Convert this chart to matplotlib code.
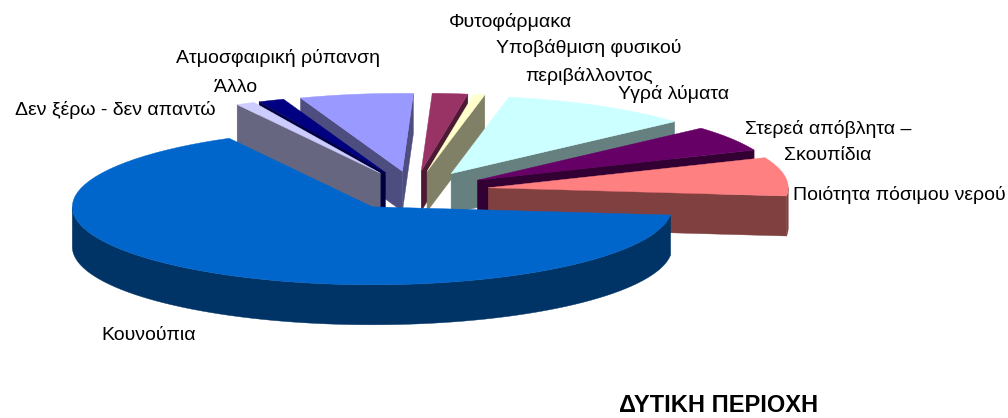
import numpy as np
import matplotlib
matplotlib.use("Agg")
import matplotlib.pyplot as plt
from matplotlib.patches import Polygon

plt.rcParams['font.family'] = ['Liberation Sans', 'DejaVu Sans']

# slices run clockwise from the left edge of the first one
labels = ['Δεν ξέρω - δεν απαντώ', 'Άλλο', 'Ατμοσφαιρική ρύπανση', 'Φυτοφάρμακα',
          'Υποβάθμιση φυσικού\nπεριβάλλοντος', 'Υγρά λύματα',
          'Στερεά απόβλητα –\nΣκουπίδια', 'Ποιότητα πόσιμου νερού', 'Κουνούπια']
shares = [1.0, 1.4, 6.1, 1.9, 0.6, 10.3, 5.3, 8.0, 65.4]
top_colors = ['#CCCCFF', '#000080', '#9999FF', '#993366', '#FFFFCC',
              '#CCFFFF', '#660066', '#FF8080', '#0066CC']
side_colors = ['#666680', '#000040', '#4D4D80', '#4D1A33', '#808066',
               '#668080', '#330033', '#804040', '#003366']

label_xy = [(115, 110), (236, 88), (278, 58), (510, 22), (589, 62),
            (674, 94), (828, 142), (899, 195), (149, 336)]

START = 118.5
CX, CY = 414.0, 190.6
RX, RY = 300.0, 78.0
EXPLODE = 0.25
DEPTH = 40.0

fig = plt.figure(figsize=(10.08, 4.18), dpi=100)
ax = fig.add_axes([0, 0, 1, 1])
ax.set_xlim(0, 1008)
ax.set_ylim(418, 0)
ax.axis('off')


def rim(apex, a1, a2):
    t = np.radians(np.linspace(a1, a2, 80))
    return np.column_stack((apex[0] + RX*np.cos(t), apex[1] - RY*np.sin(t)))


def add_poly(pts, color, z):
    ax.add_patch(Polygon(pts, closed=True, facecolor=color, edgecolor=color,
                         linewidth=0.3, zorder=z))


shares_arr = np.array(shares)
sweeps = shares_arr/shares_arr.sum()*360
edges = START - np.concatenate(([0], np.cumsum(sweeps)))

slices = []
for i in range(len(shares)):
    hi, lo = edges[i], edges[i+1]
    mid = np.radians((hi + lo)/2)
    apex = (CX + EXPLODE*RX*np.cos(mid), CY - EXPLODE*RY*np.sin(mid))
    slices.append((np.sin(mid), i, hi, lo, apex))

# back slices first, the front ones cover them
z = 1
for _, i, hi, lo, apex in sorted(slices, key=lambda s: (-s[0], abs(s[1] - 3))):
    down = np.array([0, DEPTH])
    ap = np.array(apex)
    for ang, seen in ((hi, np.cos(np.radians(hi)) < 0), (lo, np.cos(np.radians(lo)) > 0)):
        if seen:
            tip = rim(apex, ang, ang)[0]
            add_poly([ap, tip, tip + down, ap + down], side_colors[i], z)
            z += 1
    # outer wall, only the part below the horizontal shows
    for k in (-1, 0):
        a1 = max(lo, 180.0 + 360*k)
        a2 = min(hi, 360.0 + 360*k)
        if a2 > a1:
            arc = rim(apex, a1, a2)
            add_poly(np.vstack((arc, arc[::-1] + down)), side_colors[i], z)
            z += 1
    add_poly(np.vstack(([ap], rim(apex, lo, hi))), top_colors[i], z)
    z += 1

for lab, (x, y) in zip(labels, label_xy):
    ax.text(x, y, lab, ha='center', va='center', fontsize=14, color='black',
            linespacing=1.65, zorder=50)

ax.text(719, 406, 'ΔΥΤΙΚΗ ΠΕΡΙΟΧΗ', ha='center', va='center', fontsize=17,
        fontweight='bold', color='black', zorder=50)

fig.savefig('out.png', dpi=100)
